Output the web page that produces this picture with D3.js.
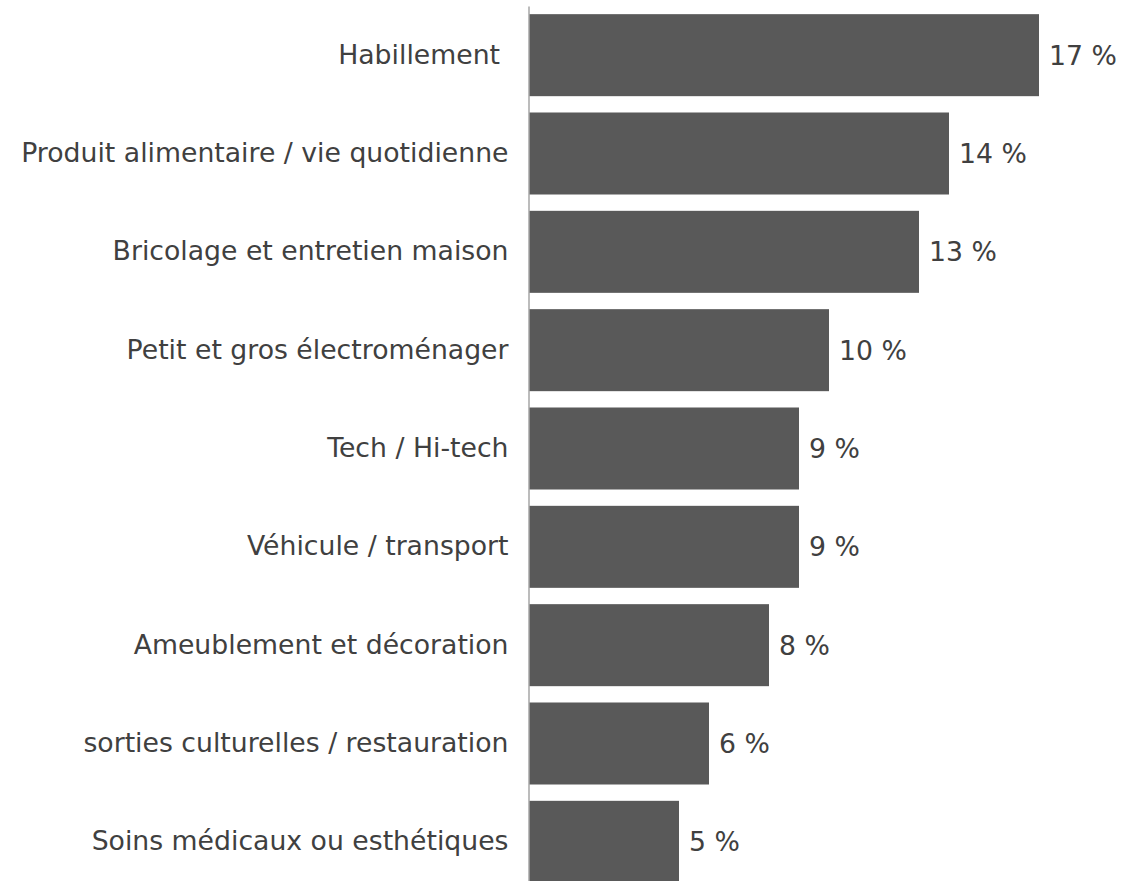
<!DOCTYPE html>
<html>
<head>
<meta charset="utf-8">
<script src="https://cdn.jsdelivr.net/npm/d3@7"></script>
<style>
  html, body { margin: 0; padding: 0; background: #ffffff; }
  svg { display: block; }
  text { font-family: "DejaVu Sans", Verdana, sans-serif; fill: #404040; }
</style>
</head>
<body>
<svg id="chart" width="1122" height="881"></svg>
<script>
// Share of respondents by spending category
const categories = [
  "Habillement ",
  "Produit alimentaire / vie quotidienne",
  "Bricolage et entretien maison",
  "Petit et gros électroménager",
  "Tech / Hi-tech",
  "Véhicule / transport",
  "Ameublement et décoration",
  "sorties culturelles / restauration",
  "Soins médicaux ou esthétiques"
];
const values = [17, 14, 13, 10, 9, 9, 8, 6, 5];

const svg = d3.select("#chart");
const x0 = 529;
const fontSize = 26.7;

const x = d3.scaleLinear().domain([0, 17]).range([x0, 1039]);
const y = d3.scaleBand()
  .domain(categories)
  .range([6, 891])
  .paddingInner(0.166)
  .paddingOuter(0.083);

const data = categories.map((c, i) => ({ cat: c, val: values[i] }));

svg.append("g").selectAll("rect")
  .data(data)
  .join("rect")
  .attr("x", x(0))
  .attr("y", d => y(d.cat))
  .attr("width", d => x(d.val) - x(0))
  .attr("height", y.bandwidth())
  .attr("fill", "#595959");

// value labels
svg.append("g").selectAll("text")
  .data(data)
  .join("text")
  .attr("x", d => x(d.val) + 10)
  .attr("y", d => y(d.cat) + y.bandwidth() / 2)
  .attr("dy", "0.35em")
  .attr("font-size", fontSize)
  .text(d => d.val + " %");

// category axis
const axis = svg.append("g")
  .attr("transform", `translate(${x0 - 0.5},0)`)
  .call(d3.axisLeft(y).tickSize(0).tickPadding(20));
axis.select(".domain").attr("stroke", "#a6a6a6").attr("stroke-width", 1.5);
axis.selectAll("text")
  .attr("font-size", fontSize)
  .attr("font-family", "'DejaVu Sans', Verdana, sans-serif")
  .attr("fill", "#404040")
  .style("white-space", "pre");
</script>
</body>
</html>
